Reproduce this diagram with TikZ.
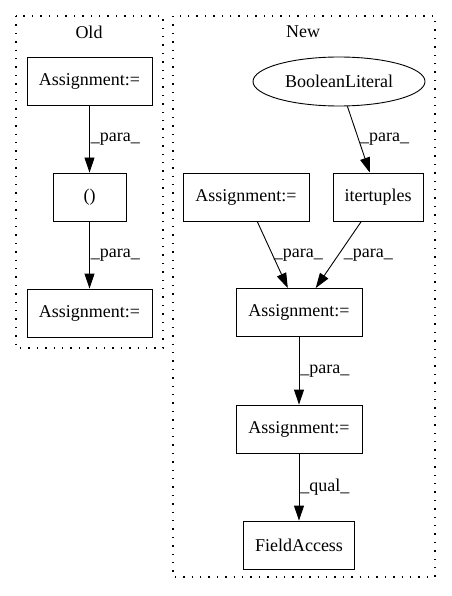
\documentclass[tikz,border=0pt]{standalone}
\usepackage{fontspec}
\setmainfont{Liberation Serif}
\usetikzlibrary{arrows.meta,shapes.geometric}

\begin{document}
\begin{tikzpicture}[x=1pt,y=-1pt,
  every node/.style={font=\fontsize{18}{21.6}\selectfont},
  box/.style={draw,line width=0.9pt,rectangle,minimum height=48pt,inner sep=0pt},
  oval/.style={draw,line width=0.9pt,ellipse,minimum width=172pt,minimum height=49pt,inner sep=0pt},
  cluster/.style={line width=1.1pt,dash pattern=on 1.4pt off 7pt},
  edge/.style={line width=0.9pt,-{Triangle[length=15pt,width=10pt]}},
  lbl/.style={anchor=west,inner sep=1pt}]
\useasboundingbox (0,0) rectangle (451,596);
\draw[cluster] (16,16) rectangle (163,348);
\node (oldtitle) at (89,32) {Old};
\draw[cluster] (173,16) rectangle (435,577);
\node (newtitle) at (303,32) {New};
\node[box,minimum width=125pt] (oldtop) at (89.5,81.5) {Assignment:=};
\node[box,minimum width=73pt] (oldcall) at (89.5,197) {()};
\node[box,minimum width=125pt] (oldbottom) at (89.5,313) {Assignment:=};
\node[oval] (boolean) at (339,81.5) {BooleanLiteral};
\node[box,minimum width=126pt] (newleft) at (246,197) {Assignment:=};
\node[box,minimum width=90pt] (itertuples) at (378,197) {itertuples};
\node[box,minimum width=126pt] (newmid) at (299,312.5) {Assignment:=};
\node[box,minimum width=126pt] (newlow) at (299,429) {Assignment:=};
\node[box,minimum width=111pt] (field) at (299,545) {FieldAccess};
\draw[edge] (oldtop) -- node[lbl] {\_para\_} (oldcall);
\draw[edge] (oldcall) -- node[lbl] {\_para\_} (oldbottom);
\draw[edge] (boolean) -- node[lbl] {\_para\_} (itertuples);
\draw[edge] (newleft) -- node[lbl] {\_para\_} (newmid);
\draw[edge] (itertuples) -- node[lbl,xshift=4pt] {\_para\_} (newmid);
\draw[edge] (newmid) -- node[lbl] {\_para\_} (newlow);
\draw[edge] (newlow) -- node[lbl] {\_qual\_} (field);
\end{tikzpicture}
\end{document}
